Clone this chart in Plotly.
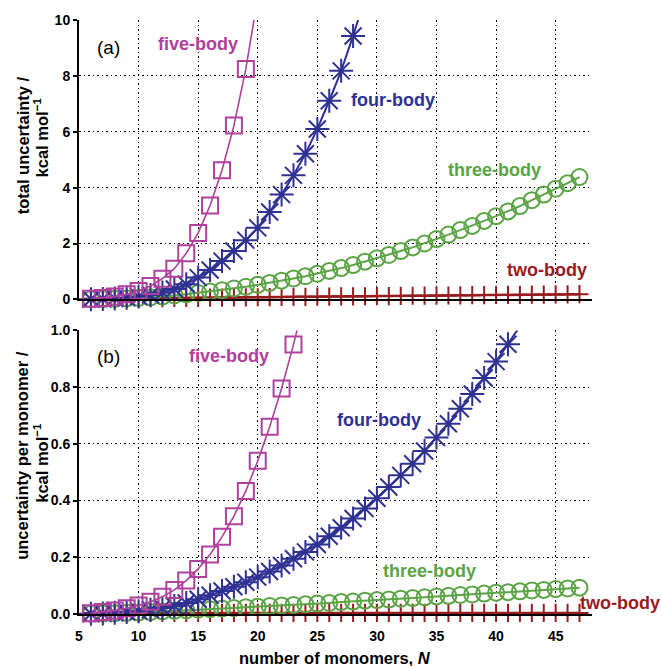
import plotly.graph_objects as go

# ---------------- data ----------------
N_all = list(range(6, 48))

# total uncertainty (kcal/mol), panel (a)
five_total_N = list(range(6, 21))
five_total = [0.02, 0.05, 0.10, 0.18, 0.30, 0.48, 0.74, 1.10, 1.65, 2.38, 3.36, 4.62, 6.22, 8.25, 10.8]
four_total_N = list(range(6, 30))
four_total = [0.005, 0.015, 0.03, 0.06, 0.10, 0.16, 0.25, 0.37, 0.54, 0.78, 1.05, 1.37, 1.73, 2.12,
              2.56, 3.13, 3.75, 4.44, 5.21, 6.10, 7.11, 8.18, 9.43, 10.8]
three_total = [0.006, 0.012, 0.02, 0.035, 0.05, 0.075, 0.10, 0.14, 0.18, 0.23, 0.28, 0.33, 0.39, 0.45,
               0.52, 0.59, 0.67, 0.75, 0.83, 0.92, 1.02, 1.12, 1.23, 1.35, 1.47, 1.59, 1.73, 1.86,
               2.00, 2.16, 2.32, 2.48, 2.63, 2.81, 2.98, 3.15, 3.34, 3.55, 3.75, 3.96, 4.16, 4.38]
two_total = [0.02, 0.025, 0.03, 0.033, 0.037, 0.04, 0.045, 0.05, 0.053, 0.057, 0.06, 0.065, 0.07, 0.073,
             0.077, 0.08, 0.085, 0.09, 0.093, 0.097, 0.10, 0.105, 0.11, 0.113, 0.117, 0.12, 0.125, 0.13,
             0.133, 0.137, 0.14, 0.145, 0.15, 0.153, 0.157, 0.16, 0.165, 0.17, 0.173, 0.177, 0.18, 0.185]

# uncertainty per monomer (kcal/mol), panel (b)
five_per_N = list(range(6, 25))
five_per = [0.003, 0.007, 0.012, 0.02, 0.03, 0.043, 0.061, 0.085, 0.118, 0.159, 0.21, 0.272, 0.345,
            0.434, 0.54, 0.66, 0.795, 0.95, 1.12]
four_per_N = list(range(6, 43))
four_per = [0.001, 0.002, 0.004, 0.007, 0.01, 0.015, 0.021, 0.028, 0.039, 0.052, 0.066, 0.081, 0.096,
            0.112, 0.130, 0.150, 0.171, 0.195, 0.219, 0.245, 0.274, 0.304, 0.337, 0.372, 0.408, 0.448,
            0.489, 0.530, 0.575, 0.622, 0.671, 0.724, 0.776, 0.832, 0.890, 0.951, 1.015]
three_per = [0.001, 0.002, 0.003, 0.004, 0.005, 0.007, 0.009, 0.011, 0.013, 0.015, 0.017, 0.019, 0.021,
             0.024, 0.026, 0.028, 0.030, 0.032, 0.034, 0.037, 0.039, 0.042, 0.044, 0.047, 0.049, 0.051,
             0.054, 0.056, 0.059, 0.062, 0.064, 0.067, 0.069, 0.072, 0.075, 0.077, 0.080, 0.083, 0.085,
             0.088, 0.090, 0.093]
two_per = [0.0033, 0.0034, 0.0035, 0.0035, 0.0036, 0.0036, 0.0036, 0.0037, 0.0037, 0.0037, 0.0037,
           0.0038, 0.0038, 0.0038, 0.0038, 0.0038, 0.0038, 0.0039, 0.0039, 0.0039, 0.0039, 0.0039,
           0.0039, 0.0039, 0.0039, 0.0039, 0.0039, 0.0039, 0.0039, 0.0039, 0.0039, 0.0039, 0.0039,
           0.0039, 0.0039, 0.0039, 0.0039, 0.0039, 0.0039, 0.0039, 0.0039, 0.0039]

labels = ["five-body", "four-body", "three-body", "two-body"]

# ---------------- styling ----------------
C5, C4, C3, C2 = "#B0409E", "#2E3192", "#5BA445", "#981B1E"
FONT = "Liberation Sans, Arial, Helvetica, sans-serif"

W_FIG, H_FIG = 662, 666
L, R, T, B = 79, 70, 17, 52
PW, PH = W_FIG - L - R, H_FIG - T - B


def xp(p):
    return (p - L) / PW


def yp(p):
    return (H_FIG - B - p) / PH


TOP_DOM = [yp(297.8), 1.0]
BOT_DOM = [0.0, yp(329.0)]
XR = [5, 48.05]
YMAX_TOP, YMAX_BOT = 10, 1.0

fig = go.Figure()


def add_series(xs, ys, color, symbol, size, lw, mlw, xa, ya, ymax):
    # line (clipped to the plotting area)
    fig.add_trace(go.Scatter(x=xs, y=ys, mode="lines", xaxis=xa, yaxis=ya,
                             line=dict(color=color, width=lw), showlegend=False,
                             hoverinfo="skip", cliponaxis=True))
    mx = [x for x, y in zip(xs, ys) if y <= ymax]
    my = [y for y in ys if y <= ymax]
    fig.add_trace(go.Scatter(x=mx, y=my, mode="markers", xaxis=xa, yaxis=ya,
                             marker=dict(symbol=symbol, size=size, color=color,
                                         line=dict(color=color, width=mlw)),
                             showlegend=False, cliponaxis=False))


# panel (a)
add_series(N_all, two_total, C2, "cross-thin-open", 13, 2.5, 2, "x", "y", YMAX_TOP)
add_series(N_all, three_total, C3, "circle-open", 16, 2, 2, "x", "y", YMAX_TOP)
add_series(four_total_N, four_total, C4, "asterisk-open", 20, 2, 2, "x", "y", YMAX_TOP)
add_series(five_total_N, five_total, C5, "square-open", 16, 1.6, 2, "x", "y", YMAX_TOP)

# panel (b)
add_series(N_all, two_per, C2, "cross-thin-open", 13, 2.5, 2, "x2", "y2", YMAX_BOT)
add_series(N_all, three_per, C3, "circle-open", 16, 2, 2, "x2", "y2", YMAX_BOT)
add_series(four_per_N, four_per, C4, "asterisk-open", 20, 2, 2, "x2", "y2", YMAX_BOT)
add_series(five_per_N, five_per, C5, "square-open", 16, 1.6, 2, "x2", "y2", YMAX_BOT)

tickfont = dict(family=FONT, size=14, color="black", weight="bold")
GD = "1.5px,3px"
common_x = dict(range=XR, tick0=5, dtick=5, showgrid=True, gridcolor="black", gridwidth=1.2,
                griddash=GD, zeroline=False, showline=True, linecolor="black", linewidth=2,
                ticks="", tickfont=tickfont)
common_y = dict(showgrid=True, gridcolor="black", gridwidth=1.2, griddash=GD, zeroline=False,
                showline=True, linecolor="black", linewidth=2, ticks="outside", ticklen=4,
                tickwidth=1.5, tickcolor="black", tickfont=tickfont)

fig.update_layout(
    width=W_FIG, height=H_FIG,
    margin=dict(l=L, r=R, t=T, b=B),
    paper_bgcolor="white", plot_bgcolor="white",
    font=dict(family=FONT, color="black"),
    xaxis=dict(common_x, domain=[0, 1], anchor="y", showticklabels=False),
    yaxis=dict(common_y, domain=TOP_DOM, anchor="x", range=[0, YMAX_TOP], tick0=0, dtick=2),
    xaxis2=dict(common_x, domain=[0, 1], anchor="y2", showticklabels=True, ticklabelstandoff=8),
    yaxis2=dict(common_y, domain=BOT_DOM, anchor="x2", range=[0, YMAX_BOT], tick0=0, dtick=0.2,
                tickformat=".1f"),
)

ann = []


def text(px, py, s, size, color, bold=True, angle=0):
    ann.append(dict(x=xp(px), y=yp(py), xref="paper", yref="paper", text=s, showarrow=False,
                    xanchor="center", yanchor="middle", textangle=angle,
                    font=dict(family=FONT, size=size, color=color,
                              weight="bold" if bold else "normal")))


# series labels
text(108, 45, "(a)", 19, "black", bold=False)
text(198, 41, labels[0], 18, C5)
text(393, 97, labels[1], 18, C4)
text(494, 168, labels[2], 18, C3)
text(547, 268, labels[3], 18, C2)

text(108, 355, "(b)", 19, "black", bold=False)
text(229, 355, labels[0], 18, C5)
text(379, 419, labels[1], 18, C4)
text(429, 571, labels[2], 18, C3)
text(620, 603, labels[3], 18, C2)

# axis titles
text(23, 143, "total uncertainty /", 16.5, "black", angle=-90)
text(41, 135, "kcal mol<sup>−1</sup>", 16.5, "black", angle=-90)
text(22, 455, "uncertainty per monomer /", 16.5, "black", angle=-90)
text(41, 462, "kcal mol<sup>−1</sup>", 16.5, "black", angle=-90)
text(335, 658, "number of monomers, <i>N</i>", 16.5, "black")

fig.update_layout(annotations=ann)

fig.write_html("out.html")
